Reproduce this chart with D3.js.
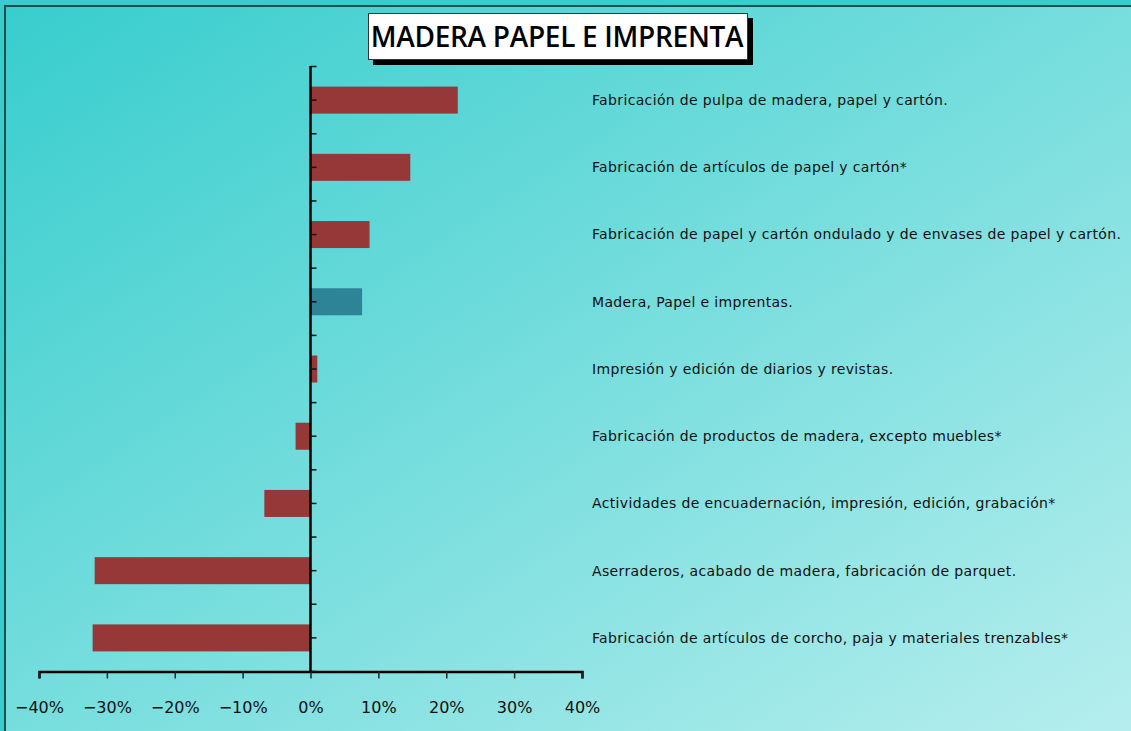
<!DOCTYPE html>
<html>
<head>
<meta charset="utf-8">
<script src="https://cdn.jsdelivr.net/npm/d3@7"></script>
<style>
  body { margin: 0; overflow: hidden; }
  svg { display: block; }
</style>
</head>
<body>
<svg></svg>
<script>
// data
var categories = [
  "Fabricación de pulpa de madera, papel y cartón.",
  "Fabricación de artículos de papel y cartón*",
  "Fabricación de papel y cartón ondulado y de envases de papel y cartón.",
  "Madera, Papel e imprentas.",
  "Impresión y edición de diarios y revistas.",
  "Fabricación de productos de madera, excepto muebles*",
  "Actividades de encuadernación, impresión, edición, grabación*",
  "Aserraderos, acabado de madera, fabricación de parquet.",
  "Fabricación de artículos de corcho, paja y materiales trenzables*"
];
var values = [21.7, 14.7, 8.7, 7.6, 1.0, -2.2, -6.8, -31.8, -32.1];
var highlight = "Madera, Papel e imprentas.";
var xTicks = [-40, -30, -20, -10, 0, 10, 20, 30, 40];
var title = "MADERA PAPEL E IMPRENTA";

var W = 1131, H = 731;
var svg = d3.select("svg").attr("width", W).attr("height", H);

// background gradient
var defs = svg.append("defs");
var grad = defs.append("linearGradient")
    .attr("id", "bg")
    .attr("x1", "0%").attr("y1", "0%")
    .attr("x2", "100%").attr("y2", "100%");
grad.append("stop").attr("offset", "0%").attr("stop-color", "#38cdcd");
grad.append("stop").attr("offset", "100%").attr("stop-color", "#b8eeee");

svg.append("rect")
    .attr("x", 0).attr("y", 0).attr("width", W).attr("height", H)
    .attr("fill", "#3acccc");
svg.append("rect")
    .attr("x", 5).attr("y", 6).attr("width", W + 10).attr("height", H + 10)
    .attr("fill", "url(#bg)")
    .attr("stroke", "#1d4f50").attr("stroke-width", 2);

// scales
var x = d3.scaleLinear().domain([-40, 40]).range([39, 582]);
var y = d3.scaleBand().domain(categories).range([66.5, 671.5]).paddingInner(0).paddingOuter(0);
var barH = 27;

// bars
svg.selectAll(".bar")
    .data(categories)
  .enter().append("rect")
    .attr("class", "bar")
    .attr("x", function(d, i) { return x(Math.min(0, values[i])); })
    .attr("y", function(d) { return y(d) + y.bandwidth() / 2 - barH / 2; })
    .attr("width", function(d, i) { return Math.abs(x(values[i]) - x(0)); })
    .attr("height", barH)
    .attr("fill", function(d) { return d === highlight ? "#2e8497" : "#963838"; });

// x axis
var xAxis = d3.axisBottom(x)
    .tickValues(xTicks)
    .tickSize(7)
    .tickPadding(23)
    .tickFormat(function(d) { return (d < 0 ? "\u2212" + Math.abs(d) : d) + "%"; });
var gx = svg.append("g")
    .attr("transform", "translate(0,671.5)")
    .call(xAxis);
gx.select(".domain").attr("stroke", "#000").attr("stroke-width", 2.5);
gx.selectAll(".tick line").attr("stroke", "#222").attr("stroke-width", 1.5);
gx.selectAll(".tick text")
    .attr("fill", "#111")
    .style("font-family", "'DejaVu Sans', sans-serif")
    .style("font-size", "16px");

// y axis: line at zero with half-band ticks on the right
var yTickPos = d3.range(0, categories.length * 2 + 1).map(function(k) {
  return 66.5 + k * y.bandwidth() / 2;
});
svg.append("line")
    .attr("x1", x(0)).attr("x2", x(0))
    .attr("y1", 66).attr("y2", 672)
    .attr("stroke", "#000").attr("stroke-width", 2.5);
svg.selectAll(".ytick")
    .data(yTickPos)
  .enter().append("line")
    .attr("class", "ytick")
    .attr("x1", x(0)).attr("x2", x(0) + 6)
    .attr("y1", function(d) { return d; })
    .attr("y2", function(d) { return d; })
    .attr("stroke", "#111").attr("stroke-width", 1.5);

// category labels
svg.selectAll(".lbl")
    .data(categories)
  .enter().append("text")
    .attr("class", "lbl")
    .attr("x", 592)
    .attr("y", function(d) { return y(d) + y.bandwidth() / 2; })
    .attr("dy", "0.35em")
    .attr("fill", "#111")
    .style("font-family", "'DejaVu Sans', sans-serif")
    .style("font-size", "14px")
    .style("letter-spacing", "0.35px")
    .text(function(d) { return d; });

// title box with shadow
svg.append("rect")
    .attr("x", 373).attr("y", 18).attr("width", 380).attr("height", 47)
    .attr("fill", "#000");
svg.append("rect")
    .attr("x", 368.5).attr("y", 13.5).attr("width", 379).attr("height", 46)
    .attr("fill", "#fff").attr("stroke", "#333").attr("stroke-width", 1);
svg.append("text")
    .attr("x", 557).attr("y", 37)
    .attr("dy", "0.36em")
    .attr("text-anchor", "middle")
    .attr("fill", "#000")
    .style("font-family", "'Open Sans', sans-serif")
    .style("font-size", "28px")
    .style("font-weight", "600")
    .style("letter-spacing", "-0.3px")
    .text(title);
</script>
</body>
</html>
